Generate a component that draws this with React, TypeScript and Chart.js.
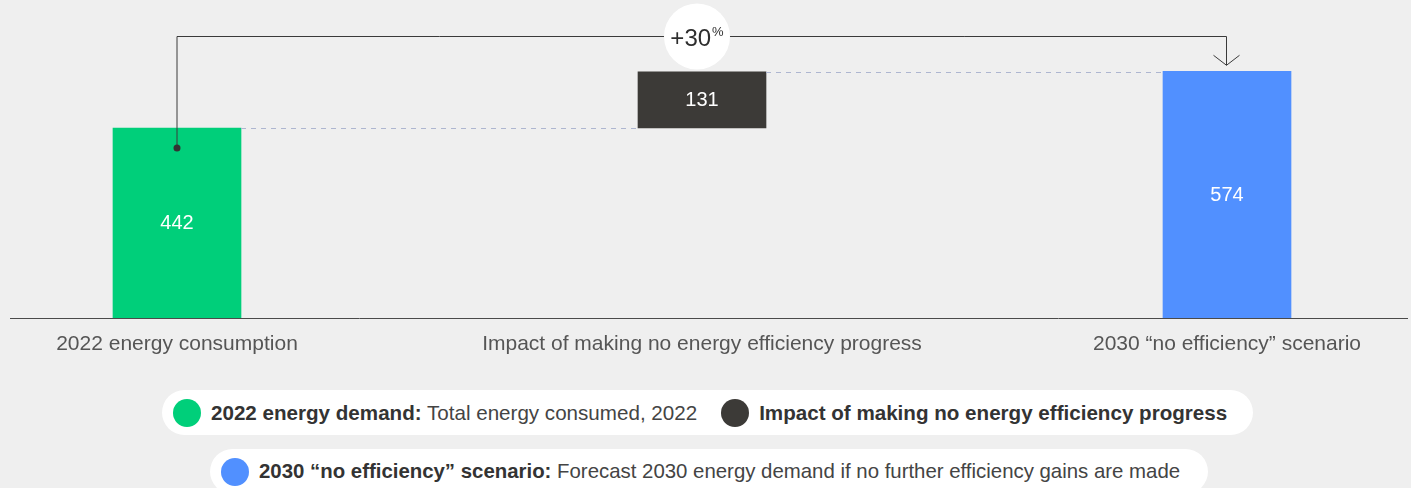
import React, { useEffect, useRef } from "react";
import { Chart, registerables } from "chart.js";

Chart.register(...registerables);

const categories = [
  "2022 energy consumption",
  "Impact of making no energy efficiency progress",
  "2030 \u201cno efficiency\u201d scenario",
];
const values = [442, 131, 574];
const barColors = ["#00cf7a", "#3c3a37", "#5190ff"];

const legendRow1 = [
  { color: "#00cf7a", bold: "2022 energy demand:", text: " Total energy consumed, 2022" },
  { color: "#3c3a37", bold: "Impact of making no energy efficiency progress", text: "" },
];
const legendRow2 = [
  {
    color: "#5190ff",
    bold: "2030 \u201cno efficiency\u201d scenario:",
    text: " Forecast 2030 energy demand if no further efficiency gains are made",
  },
];

const FONT = '"Liberation Sans", Arial, Helvetica, sans-serif';

export default function App() {
  const ref = useRef<HTMLCanvasElement>(null);

  useEffect(() => {
    document.body.style.margin = "0";
    document.body.style.background = "#efefef";

    const floating = [
      [0, values[0]],
      [values[0], values[0] + values[1]],
      [0, values[2]],
    ];

    const overlay = {
      id: "overlay",
      afterDatasetsDraw(chart: any) {
        const ctx = chart.ctx;
        const meta = chart.getDatasetMeta(0);
        const bars = meta.data.map((b: any) => b.getProps(["x", "y", "base", "width"], true));
        const ys = chart.scales.y;

        ctx.save();
        // axis line
        const y0 = Math.round(ys.getPixelForValue(0)) + 0.5;
        ctx.strokeStyle = "#4a4a4a";
        ctx.lineWidth = 1;
        ctx.beginPath();
        ctx.moveTo(10, y0);
        ctx.lineTo(chart.width - 3, y0);
        ctx.stroke();

        // dashed connectors
        ctx.strokeStyle = "#aeb6d0";
        ctx.setLineDash([5, 5]);
        for (let i = 0; i < bars.length - 1; i++) {
          const yy = Math.round(bars[i].y) + 0.5;
          ctx.beginPath();
          ctx.moveTo(bars[i].x + bars[i].width / 2, yy);
          ctx.lineTo(bars[i + 1].x - bars[i + 1].width / 2, yy);
          ctx.stroke();
        }
        ctx.setLineDash([]);

        // value labels
        ctx.fillStyle = "#ffffff";
        ctx.font = `20px ${FONT}`;
        ctx.textAlign = "center";
        ctx.textBaseline = "middle";
        bars.forEach((b: any, i: number) => {
          ctx.fillText(String(values[i]), b.x, (b.y + b.base) / 2 + 1);
        });

        // growth connector
        const first = bars[0];
        const last = bars[bars.length - 1];
        const lineY = Math.round(last.y - 35) + 0.5;
        const dotY = first.y + 20;
        const tipY = last.y - 6;
        const x1 = first.x;
        const x2 = Math.round(last.x) - 0.5;
        ctx.strokeStyle = "#3a3a3a";
        ctx.lineWidth = 1;
        ctx.beginPath();
        ctx.moveTo(x1, dotY);
        ctx.lineTo(x1, lineY);
        ctx.lineTo(x2, lineY);
        ctx.lineTo(x2, tipY);
        ctx.stroke();
        ctx.beginPath();
        ctx.moveTo(x2 - 13, tipY - 10);
        ctx.lineTo(x2, tipY);
        ctx.lineTo(x2 + 13, tipY - 10);
        ctx.stroke();
        ctx.fillStyle = "#333333";
        ctx.beginPath();
        ctx.arc(x1, dotY, 3.5, 0, Math.PI * 2);
        ctx.fill();

        // bubble
        const cx = bars[1].x - 5;
        const cy = lineY;
        ctx.fillStyle = "#ffffff";
        ctx.beginPath();
        ctx.arc(cx, cy, 33, 0, Math.PI * 2);
        ctx.fill();
        const pct = Math.round(((values[2] - values[0]) / values[0]) * 100);
        const main = `+${pct}`;
        ctx.font = `24px ${FONT}`;
        const w1 = ctx.measureText(main).width;
        ctx.font = `13px ${FONT}`;
        const w2 = ctx.measureText("%").width;
        const start = cx - (w1 + w2 + 1) / 2;
        ctx.fillStyle = "#2e2e2e";
        ctx.textAlign = "left";
        ctx.textBaseline = "alphabetic";
        ctx.font = `24px ${FONT}`;
        ctx.fillText(main, start, cy + 9);
        ctx.font = `13px ${FONT}`;
        ctx.fillText("%", start + w1 + 1, cy - 1);
        ctx.restore();
      },
    };

    const chart = new Chart(ref.current!, {
      type: "bar",
      data: {
        labels: categories,
        datasets: [
          {
            data: floating as any,
            backgroundColor: barColors,
            borderWidth: 0,
            borderSkipped: false,
            barThickness: 128,
            clip: false as any,
          },
        ],
      },
      options: {
        responsive: false,
        animation: false,
        events: [],
        layout: { padding: { left: 177, right: 184, top: 0, bottom: 13 } },
        plugins: { legend: { display: false }, tooltip: { enabled: false } },
        scales: {
          x: {
            offset: false,
            grid: { display: false, drawTicks: false },
            border: { display: false },
            ticks: {
              color: "#555555",
              padding: 14,
              maxRotation: 0,
              autoSkip: false,
              font: { family: FONT, size: 21 },
            },
          },
          y: { display: false, min: 0, max: 740 },
        },
      },
      plugins: [overlay],
    });
    return () => chart.destroy();
  }, []);

  const renderItem = (it: any, i: number) => (
    <div key={i} style={{ display: "flex", alignItems: "center", marginLeft: i === 0 ? 0 : 24 }}>
      <span
        style={{
          width: 28,
          height: 28,
          borderRadius: 14,
          background: it.color,
          display: "inline-block",
          marginRight: 10,
          flex: "none",
        }}
      />
      <span style={{ whiteSpace: "pre" }}>
        <b style={{ color: "#333333" }}>{it.bold}</b>
        <span style={{ color: "#444444" }}>{it.text}</span>
      </span>
    </div>
  );

  const boxStyle: React.CSSProperties = {
    position: "absolute",
    background: "#ffffff",
    borderRadius: 23,
    height: 45,
    display: "flex",
    alignItems: "center",
    paddingLeft: 11,
    boxSizing: "border-box",
    fontFamily: FONT,
    fontSize: 20.6,
  };

  return (
    <div
      style={{
        position: "relative",
        width: 1411,
        height: 488,
        background: "#efefef",
        overflow: "hidden",
      }}
    >
      <canvas ref={ref} width={1411} height={384} style={{ display: "block" }} />
      <div style={{ ...boxStyle, left: 162, top: 390, width: 1091 }}>
        {legendRow1.map(renderItem)}
      </div>
      <div style={{ ...boxStyle, left: 210, top: 449, width: 998, fontSize: 20.4 }}>
        {legendRow2.map(renderItem)}
      </div>
    </div>
  );
}
